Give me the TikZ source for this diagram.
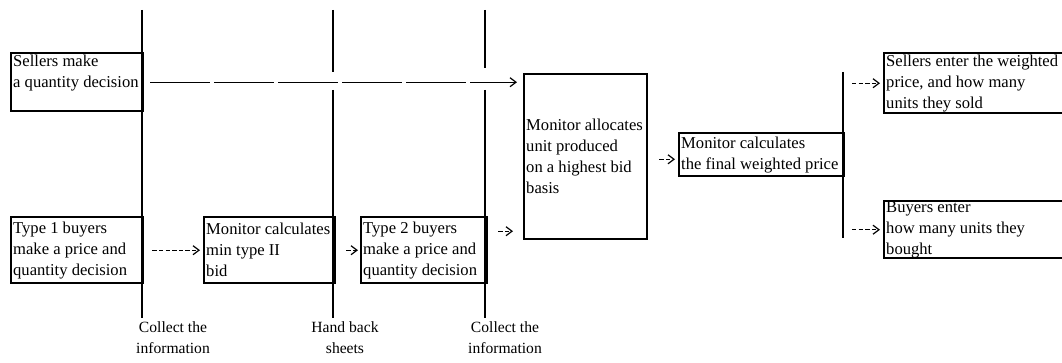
\documentclass[tikz,border=0pt]{standalone}
\usepackage{fontspec}
\setmainfont{Liberation Serif}
\usetikzlibrary{positioning, arrows.meta}

\begin{document}
\begin{tikzpicture}[x=0.5pt, y=-0.5pt,
        every node/.style={font=\fontsize{8.3}{10.5}\selectfont},
        stage/.style={draw, line width=1.2pt, anchor=north west, align=left, inner xsep=1pt, inner ysep=0pt,
            execute at begin node={\spaceskip=0pt\xspaceskip=0pt\hyphenpenalty=10000}},
        phase/.style={line width=1pt},
        flow/.style={-{Straight Barb[length=3pt,width=4.5pt]}, line width=0.6pt, dash pattern=on 2.2pt off 1.1pt},
        longflow/.style={flow, dash pattern=on 30pt off 2pt},
        note/.style={font=\fontsize{7.8}{10.5}\selectfont, align=center}]
        \useasboundingbox (0,0) rectangle (1062,363);

        % Stages
        \node[stage, text width=64pt, minimum height=29pt] (S1) at (10,52) {Sellers make\\a quantity decision\\~};
        \node[stage, text width=64pt, minimum height=33pt] (S2) at (10,216) {Type 1 buyers\\make a price and\\quantity decision};
        \node[stage, text width=63.5pt, minimum height=33pt] (S3) at (203,216) {Monitor calculates\\min type II\\bid};
        \node[stage, text width=61pt, minimum height=33pt] (S4) at (360,216) {Type 2 buyers\\make a price and\\quantity decision};
        \node[stage, text width=59.5pt, minimum height=82.5pt] (S5) at (523,73) {Monitor allocates\\unit produced\\on a highest bid\\basis};
        \node[stage, text width=80.5pt, minimum height=21.5pt] (S6) at (678,132) {Monitor calculates\\the final weighted price};
        \node[stage, text width=90.5pt, minimum height=30pt] (S7) at (883,52) {Sellers enter the weighted\\price, and how many\\units they sold};
        \node[stage, text width=90.5pt, minimum height=28.5pt] (S8) at (883,200) {Buyers enter\\how many units they\\bought};

        % Phase lines
        \coordinate (P1a) at (142,10);
        \coordinate (P1b) at (142,318);
        \coordinate (P2a) at (333,10);
        \coordinate (P2b) at (333,318);
        \coordinate (P3a) at (485,10);
        \coordinate (P3b) at (485,318);
        \coordinate (P4a) at (843,72);
        \coordinate (P4b) at (843,238);
        \draw[phase] (P1a) -- (P1b);
        \draw[phase] (P2a) -- (333,72) (333,90) -- (P2b);
        \draw[phase] (P3a) -- (485,68) (485,90) -- (P3b);
        \draw[phase] (P4a) -- (P4b);

        % Phase labels
        \node[note] (L1) at (173,338) {Collect the\\information};
        \node[note] (L2) at (345,338) {Hand back\\sheets};
        \node[note] (L3) at (505,338) {Collect the\\information};

        % Flows
        \draw[longflow, shorten <=3pt, shorten >=3pt] (S1.east) -- (S1.east -| S5.west);
        \draw[flow, shorten <=4pt, shorten >=1.5pt] (S2.east) -- (S3.west);
        \draw[flow, shorten <=5pt, shorten >=1pt] (S3.east) -- (S4.west);
        \draw[flow, shorten <=5pt, shorten >=5pt] ([yshift=9.5pt]S4.east) -- ([yshift=9.5pt]S4.east -| S5.west);
        \draw[flow, shorten <=5.5pt, shorten >=1.5pt] ([yshift=-2.3pt]S6.west -| S5.east) -- ([yshift=-2.3pt]S6.west);
        \draw[flow, shorten <=4.5pt, shorten >=1.5pt] (S7.west -| P4a) -- (S7.west);
        \draw[flow, shorten <=4.5pt, shorten >=1.5pt] (S8.west -| P4a) -- (S8.west);
    \end{tikzpicture}
\end{document}
